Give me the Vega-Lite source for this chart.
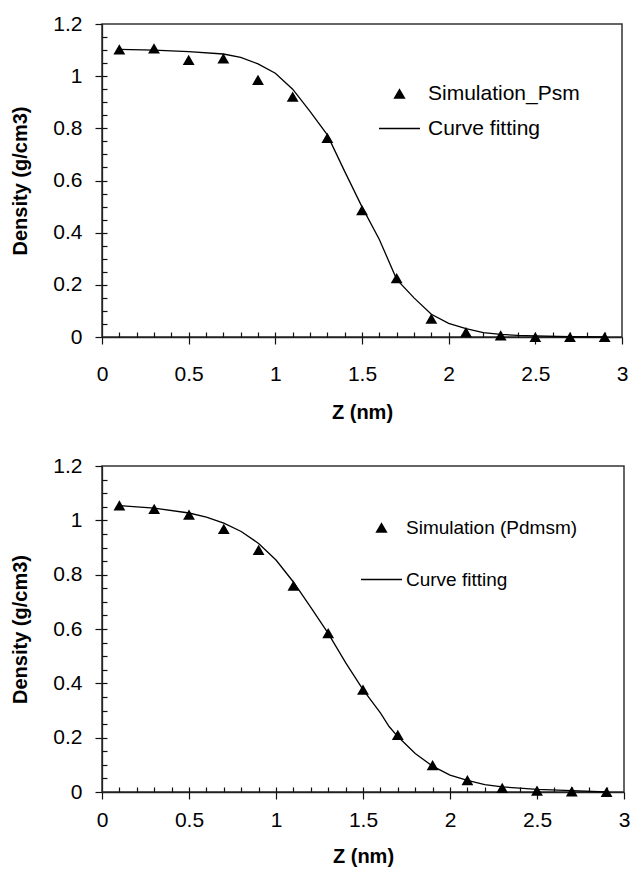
{
  "$schema": "https://vega.github.io/schema/vega-lite/v6.json",
  "background": "white",
  "padding": {"left": 10, "top": 12, "right": 5, "bottom": 5},
  "spacing": 31,
  "config": {
    "font": "Liberation Sans",
    "view": {"stroke": "#333", "strokeWidth": 1.5},
    "axis": {"grid": false, "domainColor": "#222", "domainWidth": 1.3, "tickColor": "#111", "tickWidth": 1.2, "labelColor": "black", "titleColor": "black", "labelFont": "Liberation Sans", "titleFont": "Liberation Sans", "labelFontSize": 21, "titleFontSize": 20, "titleFontWeight": "bold", "format": ".1~f"}
  },
  "resolve": {"scale": {"color": "independent"}, "legend": {"color": "independent"}},
  "datasets": {
    "simA": [
      {"z": 0.1, "density": 1.103, "series": "Simulation_Psm"},
      {"z": 0.3, "density": 1.107, "series": "Simulation_Psm"},
      {"z": 0.5, "density": 1.062, "series": "Simulation_Psm"},
      {"z": 0.7, "density": 1.068, "series": "Simulation_Psm"},
      {"z": 0.9, "density": 0.986, "series": "Simulation_Psm"},
      {"z": 1.1, "density": 0.922, "series": "Simulation_Psm"},
      {"z": 1.3, "density": 0.763, "series": "Simulation_Psm"},
      {"z": 1.5, "density": 0.486, "series": "Simulation_Psm"},
      {"z": 1.7, "density": 0.226, "series": "Simulation_Psm"},
      {"z": 1.9, "density": 0.07, "series": "Simulation_Psm"},
      {"z": 2.1, "density": 0.019, "series": "Simulation_Psm"},
      {"z": 2.3, "density": 0.006, "series": "Simulation_Psm"},
      {"z": 2.5, "density": 0.0, "series": "Simulation_Psm"},
      {"z": 2.7, "density": 0.0, "series": "Simulation_Psm"},
      {"z": 2.9, "density": 0.0, "series": "Simulation_Psm"}
    ],
    "fitA": [
      {"z": 0.1, "density": 1.103, "series": "Curve fitting"},
      {"z": 0.3, "density": 1.1, "series": "Curve fitting"},
      {"z": 0.5, "density": 1.094, "series": "Curve fitting"},
      {"z": 0.7, "density": 1.085, "series": "Curve fitting"},
      {"z": 0.8, "density": 1.072, "series": "Curve fitting"},
      {"z": 0.9, "density": 1.047, "series": "Curve fitting"},
      {"z": 1.0, "density": 1.011, "series": "Curve fitting"},
      {"z": 1.1, "density": 0.95, "series": "Curve fitting"},
      {"z": 1.2, "density": 0.865, "series": "Curve fitting"},
      {"z": 1.3, "density": 0.775, "series": "Curve fitting"},
      {"z": 1.4, "density": 0.635, "series": "Curve fitting"},
      {"z": 1.5, "density": 0.499, "series": "Curve fitting"},
      {"z": 1.6, "density": 0.374, "series": "Curve fitting"},
      {"z": 1.7, "density": 0.221, "series": "Curve fitting"},
      {"z": 1.8, "density": 0.15, "series": "Curve fitting"},
      {"z": 1.9, "density": 0.087, "series": "Curve fitting"},
      {"z": 2.0, "density": 0.052, "series": "Curve fitting"},
      {"z": 2.1, "density": 0.032, "series": "Curve fitting"},
      {"z": 2.2, "density": 0.017, "series": "Curve fitting"},
      {"z": 2.3, "density": 0.01, "series": "Curve fitting"},
      {"z": 2.4, "density": 0.006, "series": "Curve fitting"},
      {"z": 2.5, "density": 0.004, "series": "Curve fitting"},
      {"z": 2.7, "density": 0.001, "series": "Curve fitting"},
      {"z": 2.9, "density": 0.0, "series": "Curve fitting"}
    ],
    "simB": [
      {"z": 0.1, "density": 1.055, "series": "Simulation (Pdmsm)"},
      {"z": 0.3, "density": 1.042, "series": "Simulation (Pdmsm)"},
      {"z": 0.5, "density": 1.021, "series": "Simulation (Pdmsm)"},
      {"z": 0.7, "density": 0.969, "series": "Simulation (Pdmsm)"},
      {"z": 0.9, "density": 0.891, "series": "Simulation (Pdmsm)"},
      {"z": 1.1, "density": 0.76, "series": "Simulation (Pdmsm)"},
      {"z": 1.3, "density": 0.585, "series": "Simulation (Pdmsm)"},
      {"z": 1.5, "density": 0.377, "series": "Simulation (Pdmsm)"},
      {"z": 1.7, "density": 0.21, "series": "Simulation (Pdmsm)"},
      {"z": 1.9, "density": 0.099, "series": "Simulation (Pdmsm)"},
      {"z": 2.1, "density": 0.044, "series": "Simulation (Pdmsm)"},
      {"z": 2.3, "density": 0.015, "series": "Simulation (Pdmsm)"},
      {"z": 2.5, "density": 0.005, "series": "Simulation (Pdmsm)"},
      {"z": 2.7, "density": 0.002, "series": "Simulation (Pdmsm)"},
      {"z": 2.9, "density": 0.0, "series": "Simulation (Pdmsm)"}
    ],
    "fitB": [
      {"z": 0.1, "density": 1.054, "series": "Curve fitting"},
      {"z": 0.3, "density": 1.045, "series": "Curve fitting"},
      {"z": 0.5, "density": 1.027, "series": "Curve fitting"},
      {"z": 0.6, "density": 1.012, "series": "Curve fitting"},
      {"z": 0.7, "density": 0.99, "series": "Curve fitting"},
      {"z": 0.8, "density": 0.959, "series": "Curve fitting"},
      {"z": 0.9, "density": 0.915, "series": "Curve fitting"},
      {"z": 1.0, "density": 0.854, "series": "Curve fitting"},
      {"z": 1.1, "density": 0.773, "series": "Curve fitting"},
      {"z": 1.2, "density": 0.68, "series": "Curve fitting"},
      {"z": 1.3, "density": 0.584, "series": "Curve fitting"},
      {"z": 1.4, "density": 0.476, "series": "Curve fitting"},
      {"z": 1.5, "density": 0.377, "series": "Curve fitting"},
      {"z": 1.6, "density": 0.291, "series": "Curve fitting"},
      {"z": 1.65, "density": 0.241, "series": "Curve fitting"},
      {"z": 1.7, "density": 0.204, "series": "Curve fitting"},
      {"z": 1.8, "density": 0.142, "series": "Curve fitting"},
      {"z": 1.9, "density": 0.095, "series": "Curve fitting"},
      {"z": 2.0, "density": 0.062, "series": "Curve fitting"},
      {"z": 2.1, "density": 0.043, "series": "Curve fitting"},
      {"z": 2.2, "density": 0.027, "series": "Curve fitting"},
      {"z": 2.3, "density": 0.019, "series": "Curve fitting"},
      {"z": 2.4, "density": 0.014, "series": "Curve fitting"},
      {"z": 2.5, "density": 0.01, "series": "Curve fitting"},
      {"z": 2.7, "density": 0.005, "series": "Curve fitting"},
      {"z": 2.9, "density": 0.0, "series": "Curve fitting"}
    ]
  },
  "vconcat": [
    {
      "width": 520,
      "height": 313,
      "resolve": {"axis": {"x": "independent", "y": "independent"}},
      "layer": [
        {
          "data": {"name": "fitA"},
          "mark": {"type": "line", "strokeWidth": 1.3},
          "encoding": {
            "x": {"field": "z", "type": "quantitative", "scale": {"domain": [0, 3], "nice": false},
              "axis": {"orient": "bottom", "title": "Z (nm)", "values": [0, 0.5, 1, 1.5, 2, 2.5, 3], "tickSize": 7, "labelPadding": 19, "titlePadding": 18, "labelFlush": false, "labelOverlap": false}},
            "y": {"field": "density", "type": "quantitative", "scale": {"domain": [0, 1.2], "nice": false},
              "axis": {"orient": "left", "title": "Density (g/cm3)", "values": [0, 0.2, 0.4, 0.6, 0.8, 1, 1.2], "tickSize": 7, "labelPadding": 13, "titlePadding": 22, "labelFlush": false, "labelOverlap": false}},
            "color": {"field": "series", "type": "nominal",
              "scale": {"domain": ["Simulation_Psm", "Curve fitting"], "range": ["black", "black"]},
              "legend": {"title": null, "orient": "none", "legendX": 287, "legendY": 59, "direction": "vertical", "padding": 0, "symbolSize": 1681, "labelFontSize": 21, "labelOffset": 18, "labelColor": "black", "labelLimit": 300, "rowPadding": 13,
                "encode": {"symbols": {"update": {
                  "shape": {"signal": "datum.value === 'Curve fitting' ? 'stroke' : 'triangle-up'"},
                  "size": {"signal": "datum.value === 'Curve fitting' ? 1681 : 150"},
                  "fill": {"signal": "datum.value === 'Curve fitting' ? 'transparent' : 'black'"},
                  "stroke": {"value": "black"},
                  "strokeWidth": {"signal": "datum.value === 'Curve fitting' ? 1.3 : 0"},
                  "opacity": {"value": 1}
                }}}}}
          }
        },
        {
          "data": {"name": "simA"},
          "mark": {"type": "point", "shape": "triangle-up", "filled": true, "size": 140, "opacity": 1},
          "encoding": {
            "x": {"field": "z", "type": "quantitative", "axis": {"orient": "bottom", "values": [0.1,0.2,0.3,0.4,0.5,0.6,0.7,0.8,0.9,1,1.1,1.2,1.3,1.4,1.5,1.6,1.7,1.8,1.9,2,2.1,2.2,2.3,2.4,2.5,2.6,2.7,2.8,2.9], "offset": -5, "tickSize": 5, "labels": false, "domain": false, "title": null}},
            "y": {"field": "density", "type": "quantitative", "axis": {"orient": "left", "values": [0.05,0.1,0.15,0.2,0.25,0.3,0.35,0.4,0.45,0.5,0.55,0.6,0.65,0.7,0.75,0.8,0.85,0.9,0.95,1,1.05,1.1,1.15], "offset": -5, "tickSize": 5, "labels": false, "domain": false, "title": null}},
            "color": {"field": "series", "type": "nominal"}
          }
        },
        {
          "mark": {"type": "text", "fontSize": 20, "color": "black", "font": "Liberation Sans"},
          "encoding": {
            "x": {"datum": 0.2, "type": "quantitative", "axis": null},
            "y": {"datum": 0.09, "type": "quantitative", "axis": null},
            "text": {"value": "(a)"}
          }
        }
      ]
    },
    {
      "width": 522,
      "height": 326,
      "resolve": {"axis": {"x": "independent", "y": "independent"}},
      "layer": [
        {
          "data": {"name": "fitB"},
          "mark": {"type": "line", "strokeWidth": 1.3},
          "encoding": {
            "x": {"field": "z", "type": "quantitative", "scale": {"domain": [0, 3], "nice": false},
              "axis": {"orient": "bottom", "title": "Z (nm)", "values": [0, 0.5, 1, 1.5, 2, 2.5, 3], "tickSize": 7, "labelPadding": 10, "titlePadding": 16, "labelFlush": false, "labelOverlap": false}},
            "y": {"field": "density", "type": "quantitative", "scale": {"domain": [0, 1.2], "nice": false},
              "axis": {"orient": "left", "title": "Density (g/cm3)", "values": [0, 0.2, 0.4, 0.6, 0.8, 1, 1.2], "tickSize": 7, "labelPadding": 13, "titlePadding": 22, "labelFlush": false, "labelOverlap": false}},
            "color": {"field": "series", "type": "nominal",
              "scale": {"domain": ["Simulation (Pdmsm)", "Curve fitting"], "range": ["black", "black"]},
              "legend": {"title": null, "orient": "none", "legendX": 270, "legendY": 52, "direction": "vertical", "padding": 0, "symbolSize": 1681, "labelFontSize": 19, "labelOffset": 15, "labelColor": "black", "labelLimit": 300, "rowPadding": 32,
                "encode": {"symbols": {"update": {
                  "shape": {"signal": "datum.value === 'Curve fitting' ? 'stroke' : 'triangle-up'"},
                  "size": {"signal": "datum.value === 'Curve fitting' ? 1681 : 150"},
                  "fill": {"signal": "datum.value === 'Curve fitting' ? 'transparent' : 'black'"},
                  "stroke": {"value": "black"},
                  "strokeWidth": {"signal": "datum.value === 'Curve fitting' ? 1.3 : 0"},
                  "opacity": {"value": 1}
                }}}}}
          }
        },
        {
          "data": {"name": "simB"},
          "mark": {"type": "point", "shape": "triangle-up", "filled": true, "size": 140, "opacity": 1},
          "encoding": {
            "x": {"field": "z", "type": "quantitative", "axis": {"orient": "bottom", "values": [0.1,0.2,0.3,0.4,0.5,0.6,0.7,0.8,0.9,1,1.1,1.2,1.3,1.4,1.5,1.6,1.7,1.8,1.9,2,2.1,2.2,2.3,2.4,2.5,2.6,2.7,2.8,2.9], "offset": -5, "tickSize": 5, "labels": false, "domain": false, "title": null}},
            "y": {"field": "density", "type": "quantitative", "axis": {"orient": "left", "values": [0.05,0.1,0.15,0.2,0.25,0.3,0.35,0.4,0.45,0.5,0.55,0.6,0.65,0.7,0.75,0.8,0.85,0.9,0.95,1,1.05,1.1,1.15], "offset": -5, "tickSize": 5, "labels": false, "domain": false, "title": null}},
            "color": {"field": "series", "type": "nominal"}
          }
        },
        {
          "mark": {"type": "text", "fontSize": 20, "color": "black", "font": "Liberation Sans"},
          "encoding": {
            "x": {"datum": 0.16, "type": "quantitative", "axis": null},
            "y": {"datum": 0.11, "type": "quantitative", "axis": null},
            "text": {"value": "(b)"}
          }
        }
      ]
    }
  ]
}
